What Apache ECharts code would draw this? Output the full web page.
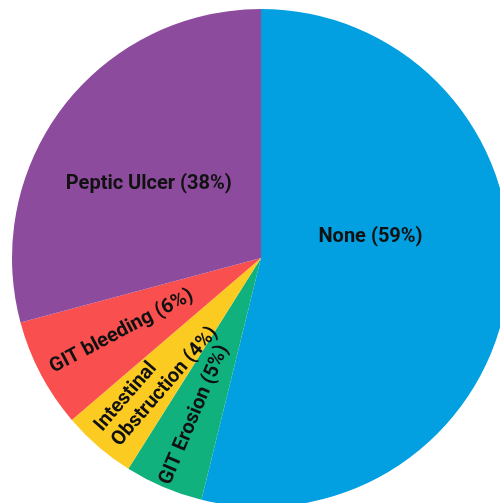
<!DOCTYPE html>
<html>
<head>
<meta charset="utf-8">
<script src="https://cdn.jsdelivr.net/npm/echarts@6/dist/echarts.min.js"></script>
<style>
  html, body { margin: 0; padding: 0; background: #fff; }
  #chart { width: 500px; height: 503px; }
</style>
</head>
<body>
<div id="chart"></div>
<script>
// slice names, clockwise from 12 o'clock
const names = ['None', 'GIT Erosion', 'Intestinal\nObstruction', 'GIT bleeding', 'Peptic Ulcer'];
// slice sizes (share of the circle, %)
const shares = [53.9, 5.1, 4.8, 7.1, 29.2];
// percentages printed on the labels
const labelPct = [59, 5, 4, 6, 38];

const colors = ['#03a0e1', '#10b17c', '#fccb22', '#f9504f', '#8c4b9d'];
// label nudges from the default inside position
// (rotated labels move in their own frame: -dx pushes them outward)
const labelShift = [[-17, -36], [-43, 0], [-108, 0], [-30, 0], [-11, 4]];
const labelAlign = [null, null, 'left', null, null];

const chart = echarts.init(document.getElementById('chart'), null, { renderer: 'canvas' });

const data = names.map((n, i) => ({
  name: n,
  value: shares[i],
  itemStyle: { color: colors[i] },
  label: { rotate: i === 0 || i === 4 ? 0 : 'radial' }
}));

chart.setOption({
  animation: false,
  series: [
    {
      type: 'pie',
      center: [261, 258],
      radius: 249,
      startAngle: 90,
      clockwise: true,
      data: data,
      label: {
        show: true,
        position: 'inside',
        color: '#111',
        fontFamily: 'Roboto',
        fontWeight: 'bold',
        fontSize: 20,
        lineHeight: 23,
        formatter: function (p) {
          return p.name + ' (' + labelPct[p.dataIndex] + '%)';
        }
      },
      labelLine: { show: false },
      labelLayout: function (p) {
        const s = labelShift[p.dataIndex];
        const out = { dx: s[0], dy: s[1] };
        if (labelAlign[p.dataIndex]) out.align = labelAlign[p.dataIndex];
        return out;
      }
    }
  ]
});
</script>
</body>
</html>
